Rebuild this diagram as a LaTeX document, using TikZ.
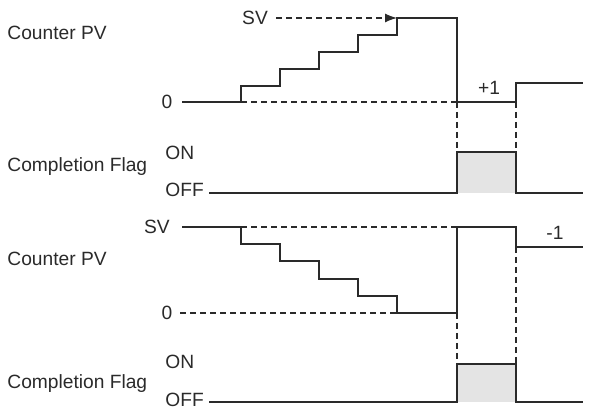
\documentclass[tikz,border=0pt]{standalone}
\usepackage{fontspec}
\setmainfont{Liberation Sans}
\usetikzlibrary{arrows.meta}
\definecolor{ink}{HTML}{2A2A2A}
\definecolor{flagfill}{HTML}{E4E4E4}
\begin{document}
\begin{tikzpicture}[x=0.5pt,y=-0.5pt,
  lbl/.style={inner sep=0pt,font=\fontsize{9.6pt}{11.5pt}\selectfont,text=ink},
  wave/.style={draw=ink,line width=0.7pt,line join=miter},
  guide/.style={draw=ink,line width=0.6pt,dash pattern=on 3pt off 2pt}]
\useasboundingbox (0,0) rectangle (590,410);
% ---------- top counter (increment) ----------
\node[lbl,anchor=west] (cpv1) at (7,33) {Counter PV};
\node[lbl] (sv1) at (255,18) {SV};
\node[lbl] (z1) at (167,102) {0};
\node[lbl] (p1) at (489,88) {+1};
\coordinate (svtop) at (397,18);
\draw[guide] (241,102) -- (457,102);
\draw[guide,-{Latex[length=6pt,width=4.5pt]}] (sv1.east)+(8,0) -- (svtop);
\draw[wave] (182,102) -- (241,102) -- (241,86) -- (280,86) -- (280,69) -- (319,69) -- (319,52)
  -- (358,52) -- (358,35) -- (397,35) -- (svtop) -- (457,18) -- (457,102) -- (516,102)
  -- (516,83) -- (583,83);
\draw[guide] (457,102) -- (457,152);
\draw[guide] (516,102) -- (516,152);
% ---------- top completion flag ----------
\node[lbl,anchor=west] (cf1) at (7,167) {Completion Flag};
\node[lbl,anchor=west] (on1) at (165,153) {ON};
\node[lbl,anchor=west] (off1) at (165,190) {OFF};
\fill[flagfill] (457,152) rectangle (516,193);
\draw[wave] (209,193) -- (457,193) -- (457,152) -- (516,152) -- (516,193) -- (583,193);
% ---------- bottom counter (decrement) ----------
\node[lbl,anchor=west] (cpv2) at (7,259) {Counter PV};
\node[lbl] (sv2) at (157,227) {SV};
\node[lbl] (z2) at (167,313) {0};
\node[lbl] (m1) at (555,233) {-1};
\draw[guide] (241,227) -- (457,227);
\draw[guide] (180,313) -- (397,313);
\draw[wave] (182,227) -- (241,227) -- (241,244) -- (280,244) -- (280,261) -- (319,261) -- (319,279)
  -- (358,279) -- (358,296) -- (397,296) -- (397,313) -- (457,313) -- (457,227) -- (516,227)
  -- (516,247) -- (583,247);
\draw[guide] (457,313) -- (457,364);
\draw[guide] (516,247) -- (516,364);
% ---------- bottom completion flag ----------
\node[lbl,anchor=west] (cf2) at (7,384) {Completion Flag};
\node[lbl,anchor=west] (on2) at (165,362) {ON};
\node[lbl,anchor=west] (off2) at (165,400) {OFF};
\fill[flagfill] (457,364) rectangle (516,402);
\draw[wave] (209,402) -- (457,402) -- (457,364) -- (516,364) -- (516,402) -- (583,402);
\end{tikzpicture}
\end{document}
